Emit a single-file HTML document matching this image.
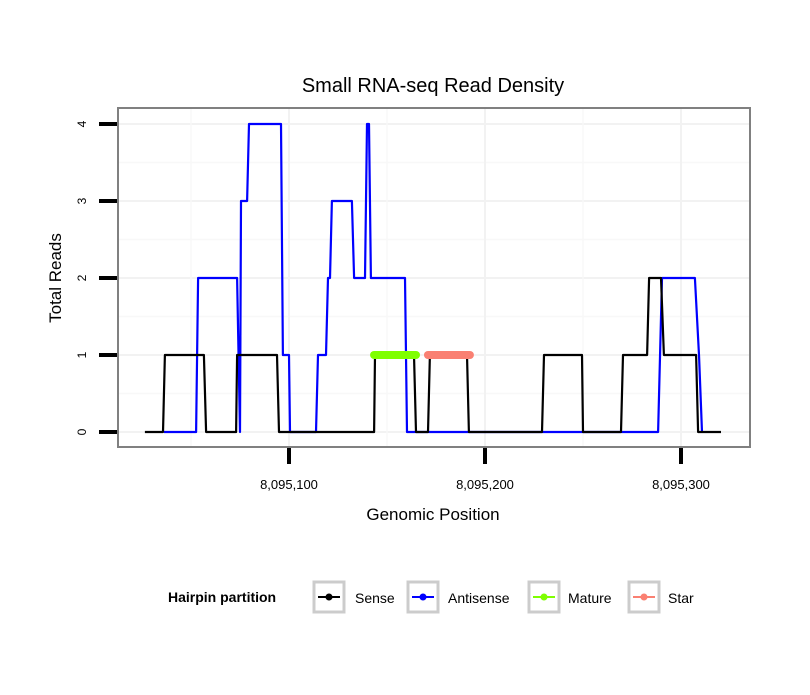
<!DOCTYPE html>
<html><head><meta charset="utf-8"><style>
body{margin:0;background:#fff}
svg{font-family:"Liberation Sans",sans-serif}
</style></head><body>
<svg id="c" width="810" height="690" xmlns="http://www.w3.org/2000/svg">
<rect width="810" height="690" fill="#fff"/>
<text x="433" y="92" font-size="20" text-anchor="middle">Small RNA-seq Read Density</text>
<g id="grid"></g>
<g id="series"></g>
<rect x="118" y="108" width="632" height="339" fill="none" stroke="#808080" stroke-width="2"/>
<g id="axes"></g>
<text x="433" y="520" font-size="17" text-anchor="middle">Genomic Position</text>
<text transform="translate(61,278) rotate(-90)" font-size="17" text-anchor="middle">Total Reads</text>
<g>
<text x="168" y="602" font-size="14" font-weight="bold">Hairpin partition</text>
<g><rect x="314" y="582" width="30" height="30" fill="#fff" stroke="#ccc" stroke-width="3"/><line x1="318" y1="597" x2="340" y2="597" stroke="#000" stroke-width="2"/><circle cx="329" cy="597" r="3.5" fill="#000"/><text x="355" y="603" font-size="14">Sense</text></g>
<g><rect x="408" y="582" width="30" height="30" fill="#fff" stroke="#ccc" stroke-width="3"/><line x1="412" y1="597" x2="434" y2="597" stroke="#0000ff" stroke-width="2"/><circle cx="423" cy="597" r="3.5" fill="#0000ff"/><text x="448" y="603" font-size="14">Antisense</text></g>
<g><rect x="529" y="582" width="30" height="30" fill="#fff" stroke="#ccc" stroke-width="3"/><line x1="533" y1="597" x2="555" y2="597" stroke="#7fff00" stroke-width="2"/><circle cx="544" cy="597" r="3.5" fill="#7fff00"/><text x="568" y="603" font-size="14">Mature</text></g>
<g><rect x="629" y="582" width="30" height="30" fill="#fff" stroke="#ccc" stroke-width="3"/><line x1="633" y1="597" x2="655" y2="597" stroke="#fa8072" stroke-width="2"/><circle cx="644" cy="597" r="3.5" fill="#fa8072"/><text x="668" y="603" font-size="14">Star</text></g>
</g>
</svg>
<script>
// positions are offsets from 8,095,000
const senseX=[26.5,35.7,36.7,56.6,57.7,73.0,73.5,93.9,94.9,143.4,143.9,163.8,164.8,170.9,171.9,190.8,191.8,229.1,230.1,249.5,250.0,269.4,270.4,282.7,283.7,289.8,291.3,307.7,308.7,320.4];
const senseY=[0,0,1,1,0,0,1,1,0,0,1,1,0,0,1,1,0,0,1,1,0,0,1,1,2,2,1,1,0,0];
const antiX=[36.2,52.6,53.6,73.5,75.0,75.5,78.6,79.6,95.9,96.9,100,100.5,113.8,114.8,118.9,119.9,120.9,121.9,132.1,133.2,138.8,139.8,140.8,141.8,159.2,160.2,288.3,290.3,307.1,309.2,310.7];
const antiY=[0,0,2,2,0,3,3,4,4,1,1,0,0,1,1,2,2,3,3,2,2,4,4,2,2,0,0,2,2,1,0];
const matureRange=[143.4,164.8];
const starRange=[170.9,192.3];
const xTicks=[100,200,300];
const xTickLabels=["8,095,100","8,095,200","8,095,300"];
const yTicks=[0,1,2,3,4];
const NS="http://www.w3.org/2000/svg";
const X=v=>289+(v-100)*1.96;
const Y=v=>432-v*77;
function mk(t,a,p){const e=document.createElementNS(NS,t);for(const k in a)e.setAttribute(k,a[k]);p.appendChild(e);return e;}
const grid=document.getElementById('grid'),axes=document.getElementById('axes'),ser=document.getElementById('series');
for(let v=-0.5;v<=4.5;v+=0.5){const y=Y(v);if(y<109||y>446)continue;const l=mk('line',{x1:119,x2:749,y1:y,y2:y,stroke:Number.isInteger(v)?'#f2f2f2':'#f8f8f8','stroke-width':Number.isInteger(v)?2:1.5},grid);

}
for(let v=0;v<=350;v+=50){const x=X(v);if(x<119||x>749)continue;const l=mk('line',{x1:x,x2:x,y1:109,y2:446,stroke:v%100==0?'#f2f2f2':'#f8f8f8','stroke-width':v%100==0?2:1.5},grid);

}
yTicks.forEach(v=>{const t=mk('line',{x1:99,x2:117,y1:Y(v),y2:Y(v),stroke:'#000','stroke-width':4},axes);


const tx=mk('text',{transform:`translate(86,${Y(v)}) rotate(-90)`,'font-size':12,'text-anchor':'middle'},axes);tx.textContent=v;

});
xTicks.forEach((v,i)=>{const t=mk('line',{x1:X(v),x2:X(v),y1:448,y2:464,stroke:'#000','stroke-width':4},axes);


const tx=mk('text',{x:X(v),y:489,'font-size':13,'text-anchor':'middle'},axes);tx.textContent=xTickLabels[i];

});
function line(xs,ys,c,name){const d=xs.map((x,i)=>(i?'L':'M')+X(x).toFixed(1)+' '+Y(ys[i]).toFixed(1)).join('');const p=mk('path',{d:d,fill:'none',stroke:c,'stroke-width':2.2,'stroke-linejoin':'round'},ser);

}
line(antiX,antiY,'#0000ff','antisense-line');
line(senseX,senseY,'#000','sense-line');
function seg(r,c,name){const s=mk('line',{x1:X(r[0]),x2:X(r[1]),y1:Y(1),y2:Y(1),stroke:c,'stroke-width':8,'stroke-linecap':'round'},ser);

}
seg(matureRange,'#7fff00','mature-segment');
seg(starRange,'#fa8072','star-segment');
</script>
</body></html>
